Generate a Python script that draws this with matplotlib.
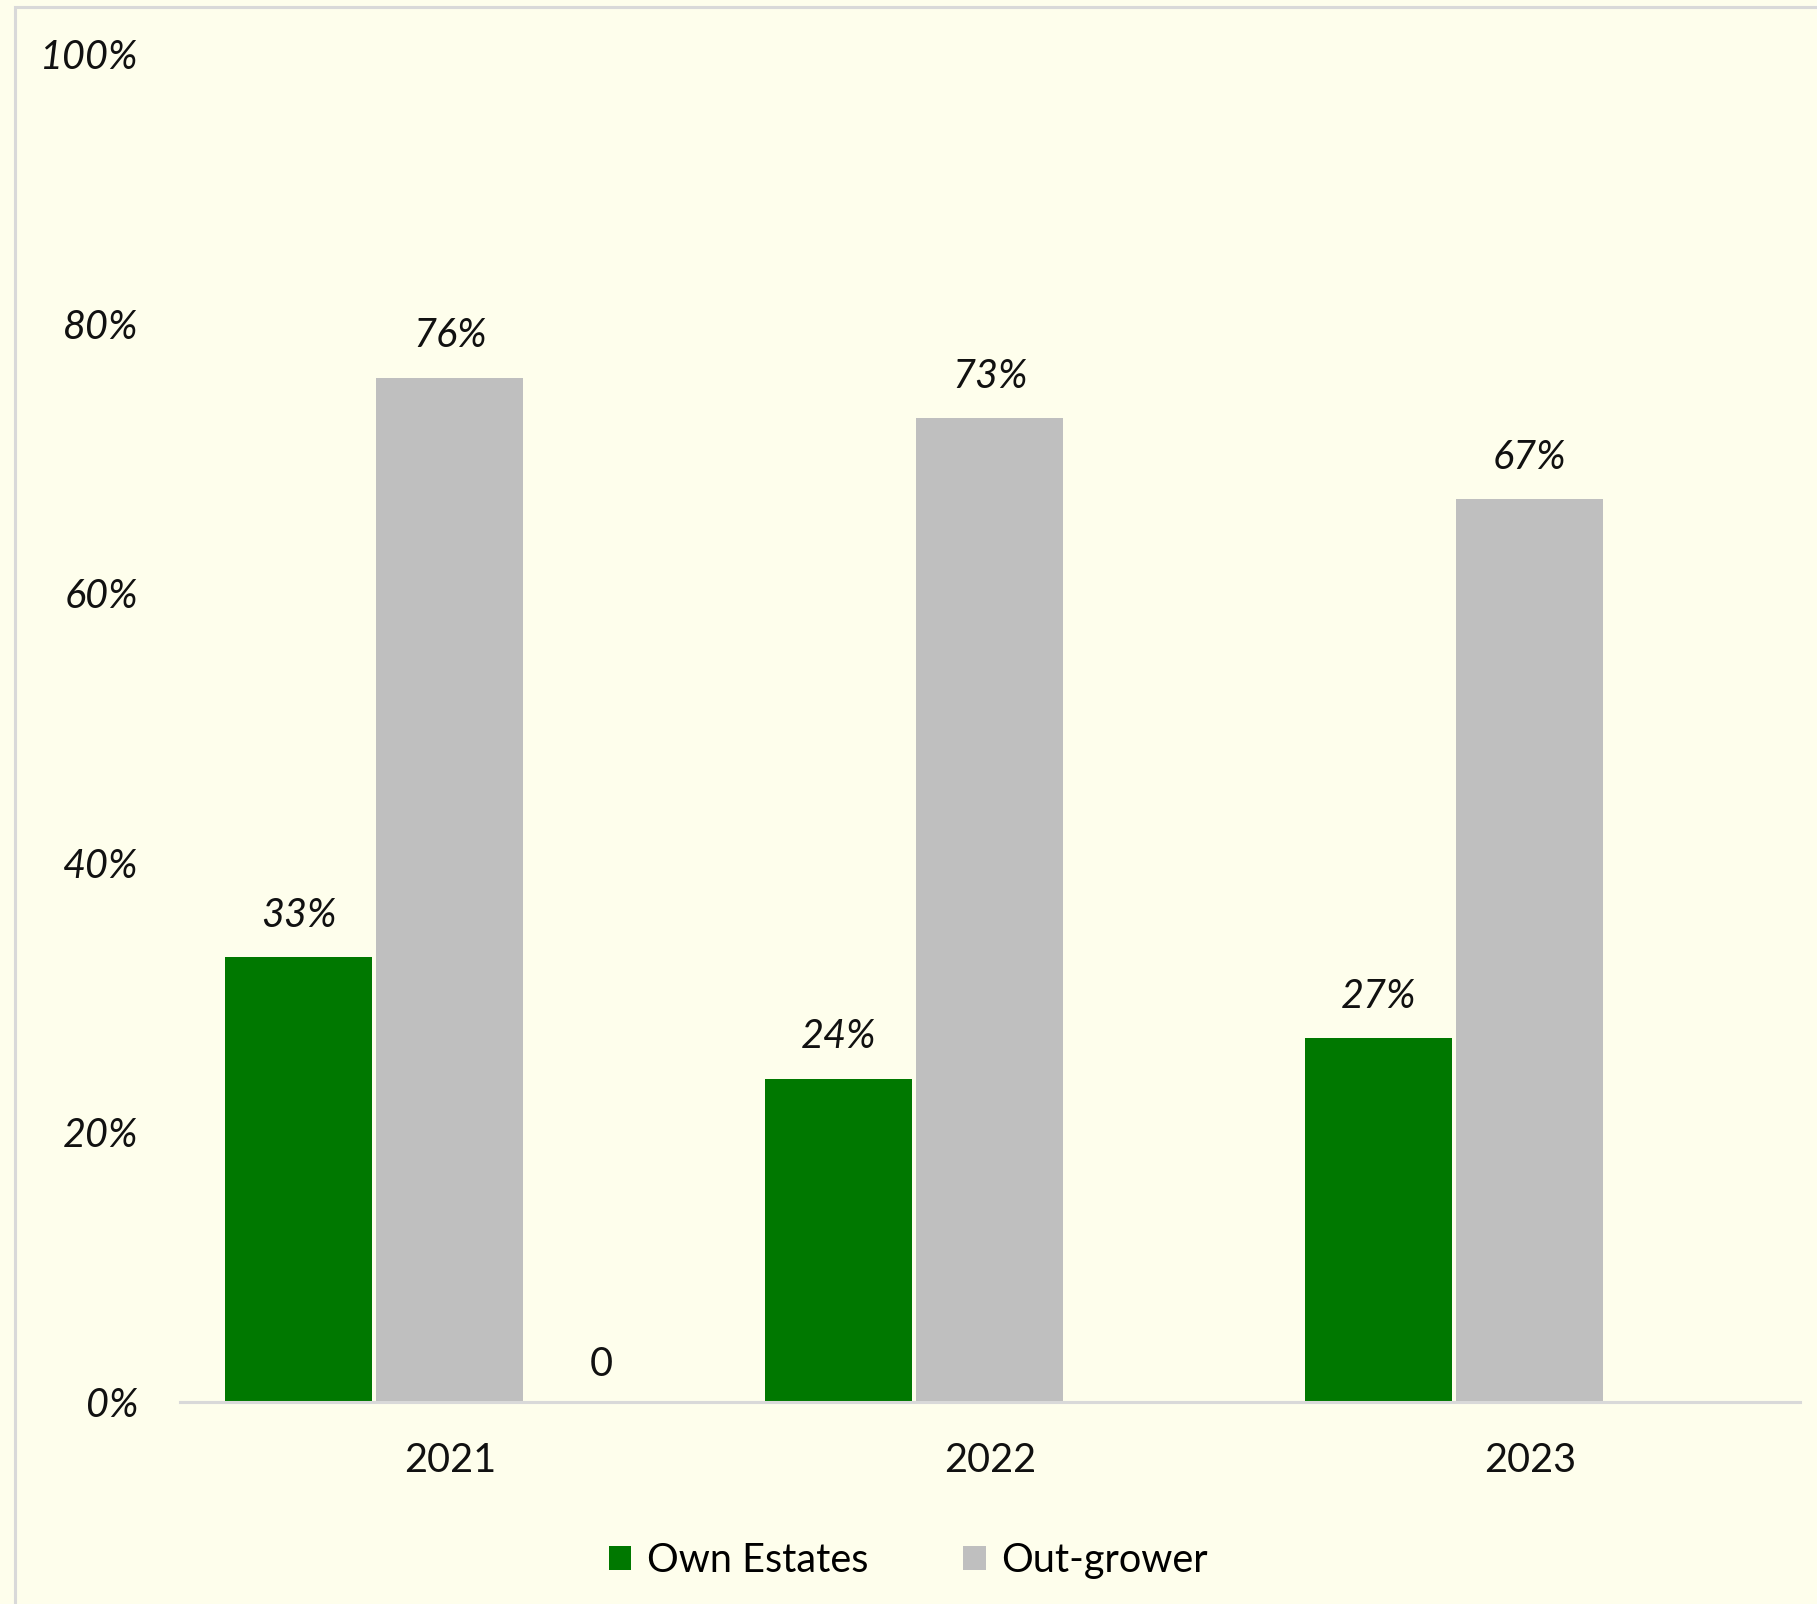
import numpy as np
import matplotlib
matplotlib.use("Agg")
import matplotlib.pyplot as plt
from matplotlib.patches import Rectangle
from matplotlib.ticker import FuncFormatter

years = ["2021", "2022", "2023"]
own_estates = [33, 24, 27]
out_grower = [76, 73, 67]
# third (empty) series, only shows a "0" label in 2021
extra = [0, np.nan, np.nan]
y_ticks = [0, 20, 40, 60, 80, 100]

bg = "#FEFEEC"
green = "#007800"
grey = "#BFBFBF"
line_grey = "#D9D9D9"

plt.rcParams["font.family"] = ["Lato", "DejaVu Sans"]
fs = 28.5

fig = plt.figure(figsize=(18.17, 16.04), dpi=100, facecolor=bg)
ax = fig.add_axes([0.099, 0.1259, 0.8916, 0.8404])
ax.set_facecolor(bg)

x = np.arange(len(years))
w = 0.272
step = 0.28
b1 = ax.bar(x - step, own_estates, w, color=green, label="Own Estates")
b2 = ax.bar(x, out_grower, w, color=grey, label="Out-grower")

for bars, vals in ((b1, own_estates), (b2, out_grower)):
    for rect, v in zip(bars, vals):
        ax.annotate(f"{v}%", (rect.get_x() + rect.get_width() / 2, v),
                    xytext=(0, 30), textcoords="offset points",
                    ha="center", va="center", fontsize=fs, style="italic",
                    color="#111111")

for xi, v in zip(x, extra):
    if not np.isnan(v):
        ax.annotate(f"{v:g}", (xi + step, v), xytext=(0, 27),
                    textcoords="offset points", ha="center", va="center",
                    fontsize=fs, color="#111111")

ax.set_xlim(-0.5, 2.5)
ax.set_ylim(0, 100)
ax.set_yticks(y_ticks)
ax.yaxis.set_major_formatter(FuncFormatter(lambda v, p: f"{v:.0f}%"))
ax.set_xticks(x)
ax.set_xticklabels(years)

for lab in ax.get_yticklabels():
    lab.set_fontstyle("italic")
ax.tick_params(axis="y", length=0, pad=30, labelsize=fs, labelcolor="#111111")
ax.tick_params(axis="x", length=0, pad=29, labelsize=fs, labelcolor="#111111")

for s in ("top", "right", "left"):
    ax.spines[s].set_visible(False)
ax.spines["bottom"].set_color(line_grey)
ax.spines["bottom"].set_linewidth(2.2)

fig.legend(handles=[b1, b2], loc="center", bbox_to_anchor=(0.5, 0.027),
           ncol=2, frameon=False, fontsize=fs, handlelength=0.56,
           handleheight=0.56, handletextpad=0.4, columnspacing=2.4)

# outer chart border (only left and top edges visible)
fig.add_artist(Rectangle((0.0083, -0.5), 2, 0.9956 + 0.5,
                         transform=fig.transFigure, fill=False,
                         edgecolor=line_grey, linewidth=2.2, clip_on=False))

fig.savefig("out.png", facecolor=bg)
